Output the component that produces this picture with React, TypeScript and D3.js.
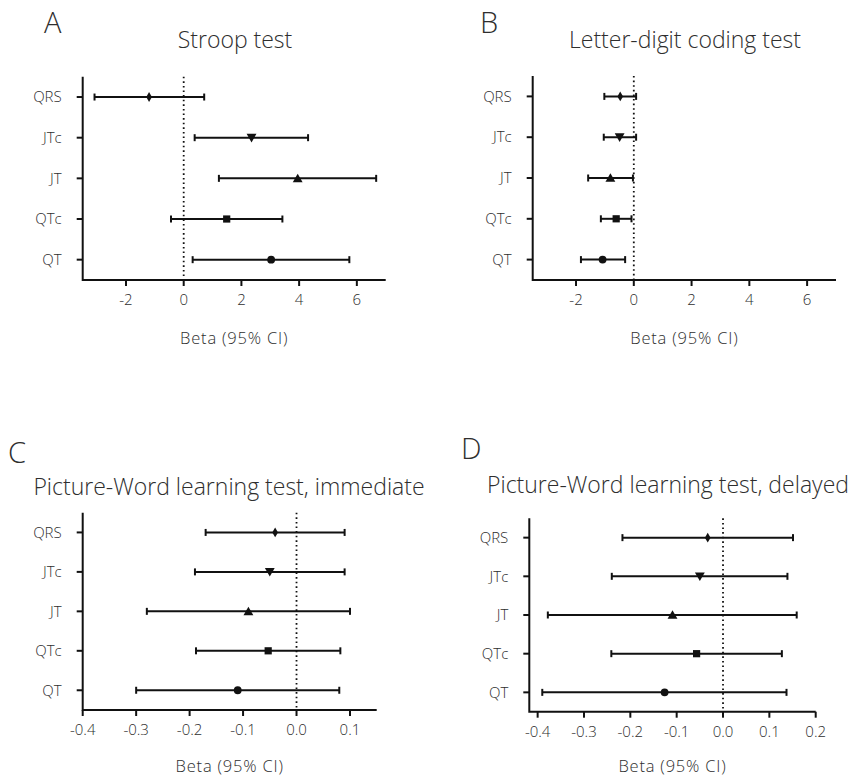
import React from "react";
import * as d3 from "d3";

const categories = ["QRS", "JTc", "JT", "QTc", "QT"];

const stroopEst = [-1.2, 2.35, 3.95, 1.49, 3.03];
const stroopLo = [-3.09, 0.38, 1.22, -0.44, 0.31];
const stroopHi = [0.71, 4.31, 6.67, 3.42, 5.74];

const ldcEst = [-0.47, -0.49, -0.81, -0.61, -1.08];
const ldcLo = [-1.02, -1.04, -1.58, -1.14, -1.83];
const ldcHi = [0.08, 0.08, -0.03, -0.08, -0.3];

const pwiEst = [-0.04, -0.05, -0.09, -0.053, -0.11];
const pwiLo = [-0.17, -0.19, -0.28, -0.188, -0.3];
const pwiHi = [0.09, 0.09, 0.1, 0.082, 0.08];

const pwdEst = [-0.033, -0.05, -0.109, -0.057, -0.126];
const pwdLo = [-0.217, -0.24, -0.378, -0.241, -0.39];
const pwdHi = [0.151, 0.139, 0.159, 0.127, 0.137];

const ticksAB = [-2, 0, 2, 4, 6];
const ticksC = [-0.4, -0.3, -0.2, -0.1, 0.0, 0.1];
const ticksD = [-0.4, -0.3, -0.2, -0.1, 0.0, 0.1, 0.2];

const FONT = "'Open Sans', 'Noto Sans', sans-serif";
const TEXT = "#2e2e2e";
const INK = "#111";

const markerTypes = [
  { type: d3.symbolDiamond, size: 28, rot: 0 },
  { type: d3.symbolTriangle, size: 42, rot: 180 },
  { type: d3.symbolTriangle, size: 42, rot: 0 },
  { type: d3.symbolSquare, size: 52, rot: 0 },
  { type: d3.symbolCircle, size: 48, rot: 0 },
];

type PanelProps = {
  letter: string;
  letterX: number;
  letterY: number;
  title: string;
  titleX: number;
  titleY: number;
  axisTitleY: number;
  x0: number;
  x1: number;
  yTop: number;
  yBottom: number;
  domain: [number, number];
  ticks: number[];
  fmt: (v: number) => string;
  est: number[];
  lo: number[];
  hi: number[];
};

function Panel(p: PanelProps) {
  const x = d3.scaleLinear().domain(p.domain).range([p.x0, p.x1]);
  const y = d3
    .scalePoint<string>()
    .domain(categories)
    .range([p.yTop, p.yBottom])
    .padding(0.5);
  const cx = (p.x0 + p.x1) / 2;
  const cap = 3.5;
  return (
    <g>
      <text x={p.letterX} y={p.letterY} fontSize={29} fontWeight={300} fontFamily={FONT} fill={TEXT}>
        {p.letter}
      </text>
      <text
        x={p.titleX}
        y={p.titleY}
        fontSize={23}
        fontWeight={300}
        fontFamily={FONT}
        fill={TEXT}
        textAnchor="middle"
      >
        {p.title}
      </text>
      <line
        x1={x(0)}
        x2={x(0)}
        y1={p.yTop}
        y2={p.yBottom}
        stroke={INK}
        strokeWidth={1.8}
        strokeDasharray="1.6,3"
      />
      <path
        d={`M${p.x0},${p.yTop}V${p.yBottom}H${p.x1}`}
        fill="none"
        stroke={INK}
        strokeWidth={2}
      />
      {categories.map((c) => (
        <g key={c}>
          <line x1={p.x0 - 6} x2={p.x0} y1={y(c)} y2={y(c)} stroke={INK} strokeWidth={2} />
          <text
            x={p.x0 - 21}
            y={y(c)!}
            dy="0.35em"
            textAnchor="end"
            fontSize={15}
            fontWeight={300}
            fontFamily={FONT}
            fill={TEXT}
          >
            {c}
          </text>
        </g>
      ))}
      {p.ticks.map((t) => (
        <g key={t}>
          <line x1={x(t)} x2={x(t)} y1={p.yBottom} y2={p.yBottom + 6} stroke={INK} strokeWidth={2} />
          <text
            x={x(t)}
            y={p.yBottom + 20}
            dy="0.35em"
            textAnchor="middle"
            fontSize={15}
            fontWeight={300}
            fontFamily={FONT}
            fill={TEXT}
          >
            {p.fmt(t)}
          </text>
        </g>
      ))}
      <text
        x={cx}
        y={p.axisTitleY}
        dy="0.35em"
        textAnchor="middle"
        fontSize={16.5}
        fontWeight={300}
        letterSpacing={0.8}
        fontFamily={FONT}
        fill={TEXT}
      >
        Beta (95% CI)
      </text>
      {categories.map((c, i) => {
        const yy = y(c)!;
        const m = markerTypes[i];
        const sym = d3.symbol().type(m.type).size(m.size)()!;
        const dyTri = m.type === d3.symbolTriangle ? (m.rot ? -1 : 1) : 0;
        return (
          <g key={"e" + c}>
            <line x1={x(p.lo[i])} x2={x(p.hi[i])} y1={yy} y2={yy} stroke={INK} strokeWidth={2} />
            <line x1={x(p.lo[i])} x2={x(p.lo[i])} y1={yy - cap} y2={yy + cap} stroke={INK} strokeWidth={2} />
            <line x1={x(p.hi[i])} x2={x(p.hi[i])} y1={yy - cap} y2={yy + cap} stroke={INK} strokeWidth={2} />
            <path
              d={sym}
              transform={`translate(${x(p.est[i])},${yy + dyTri}) rotate(${m.rot})`}
              fill={INK}
            />
          </g>
        );
      })}
    </g>
  );
}

const fmtInt = (v: number) => String(Math.round(v));
const fmt1 = (v: number) => (Math.round(v * 10) / 10).toFixed(1);

export default function App() {
  return (
    <svg
      width={859}
      height={777}
      style={{ position: "absolute", left: 0, top: 0, background: "#fff" }}
    >
      <Panel
        letter="A" letterX={44} letterY={33}
        title="Stroop test" titleX={235} titleY={48}
        axisTitleY={338}
        x0={82.7} x1={385.7} yTop={76.7} yBottom={280}
        domain={[-3.5, 7]} ticks={ticksAB} fmt={fmtInt}
        est={stroopEst} lo={stroopLo} hi={stroopHi}
      />
      <Panel
        letter="B" letterX={480} letterY={33}
        title="Letter-digit coding test" titleX={685} titleY={48}
        axisTitleY={338}
        x0={532.7} x1={836} yTop={76} yBottom={280}
        domain={[-3.5, 7]} ticks={ticksAB} fmt={fmtInt}
        est={ldcEst} lo={ldcLo} hi={ldcHi}
      />
      <Panel
        letter="C" letterX={8} letterY={463}
        title="Picture-Word learning test, immediate" titleX={229} titleY={495}
        axisTitleY={766}
        x0={82.7} x1={376.7} yTop={512.7} yBottom={710}
        domain={[-0.4, 0.15]} ticks={ticksC} fmt={fmt1}
        est={pwiEst} lo={pwiLo} hi={pwiHi}
      />
      <Panel
        letter="D" letterX={461} letterY={459}
        title="Picture-Word learning test, delayed" titleX={668} titleY={493}
        axisTitleY={766}
        x0={529.3} x1={815.7} yTop={518.3} yBottom={711.7}
        domain={[-0.418, 0.2]} ticks={ticksD} fmt={fmt1}
        est={pwdEst} lo={pwdLo} hi={pwdHi}
      />
    </svg>
  );
}
